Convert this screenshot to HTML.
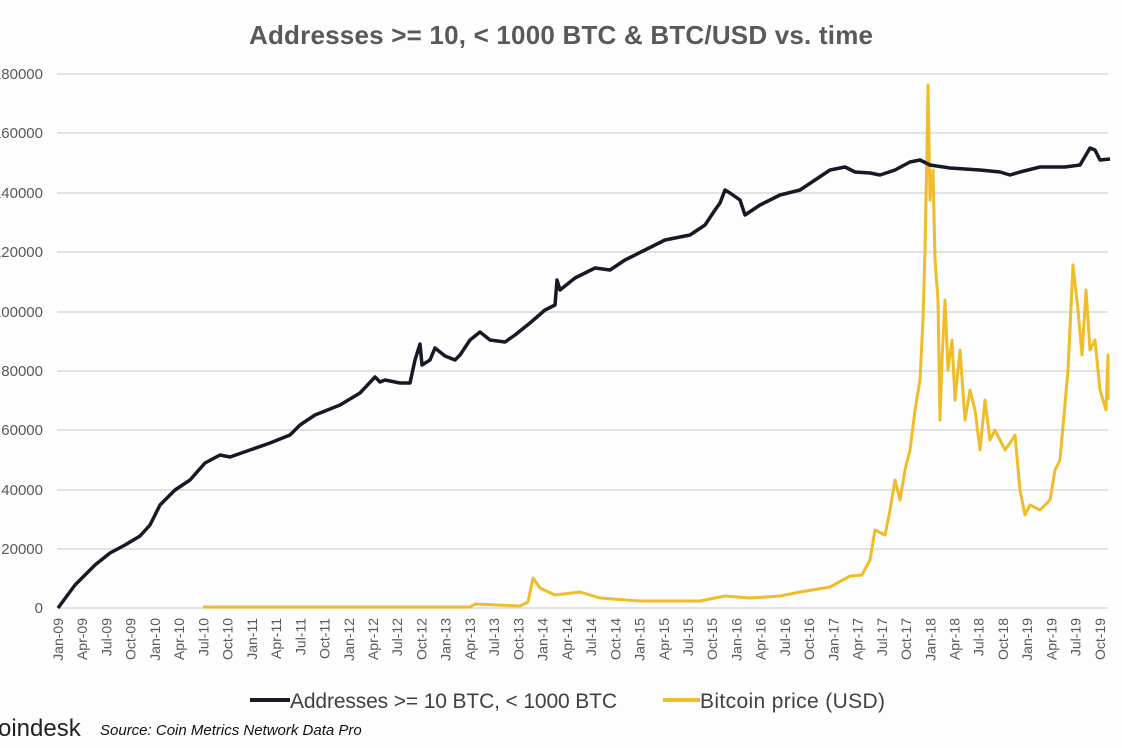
<!DOCTYPE html>
<html><head><meta charset="utf-8"><style>
body{margin:0;background:#fdfdfd;}
svg{display:block;font-family:"Liberation Sans",sans-serif;}
</style></head><body>
<svg width="1122" height="748" viewBox="0 0 1122 748">
<rect width="1122" height="748" fill="#fdfdfd"/>
<text x="561" y="44" text-anchor="middle" font-size="26" font-weight="bold" fill="#595959" textLength="624">Addresses &gt;= 10, &lt; 1000 BTC &amp; BTC/USD vs. time</text>
<g stroke="#d9d9d9" stroke-width="1.5">
<line x1="57" x2="1108" y1="74" y2="74"/><line x1="57" x2="1108" y1="133" y2="133"/><line x1="57" x2="1108" y1="193" y2="193"/><line x1="57" x2="1108" y1="252" y2="252"/><line x1="57" x2="1108" y1="312" y2="312"/><line x1="57" x2="1108" y1="371" y2="371"/><line x1="57" x2="1108" y1="430" y2="430"/><line x1="57" x2="1108" y1="490" y2="490"/><line x1="57" x2="1108" y1="549" y2="549"/><line x1="57" x2="1108" y1="608" y2="608"/>
</g>
<g font-size="15" fill="#595959" text-anchor="end">
<text x="43" y="79">180000</text><text x="43" y="138">160000</text><text x="43" y="198">140000</text><text x="43" y="257">120000</text><text x="43" y="317">100000</text><text x="43" y="376">80000</text><text x="43" y="435">60000</text><text x="43" y="495">40000</text><text x="43" y="554">20000</text><text x="43" y="613">0</text>
</g>
<g font-size="14" fill="#595959" text-anchor="end">
<text transform="translate(63,618) rotate(-90)">Jan-09</text>
<text transform="translate(87.2,618) rotate(-90)">Apr-09</text>
<text transform="translate(111.5,618) rotate(-90)">Jul-09</text>
<text transform="translate(135.7,618) rotate(-90)">Oct-09</text>
<text transform="translate(159.9,618) rotate(-90)">Jan-10</text>
<text transform="translate(184.2,618) rotate(-90)">Apr-10</text>
<text transform="translate(208.4,618) rotate(-90)">Jul-10</text>
<text transform="translate(232.6,618) rotate(-90)">Oct-10</text>
<text transform="translate(256.8,618) rotate(-90)">Jan-11</text>
<text transform="translate(281.1,618) rotate(-90)">Apr-11</text>
<text transform="translate(305.3,618) rotate(-90)">Jul-11</text>
<text transform="translate(329.5,618) rotate(-90)">Oct-11</text>
<text transform="translate(353.8,618) rotate(-90)">Jan-12</text>
<text transform="translate(378,618) rotate(-90)">Apr-12</text>
<text transform="translate(402.2,618) rotate(-90)">Jul-12</text>
<text transform="translate(426.5,618) rotate(-90)">Oct-12</text>
<text transform="translate(450.7,618) rotate(-90)">Jan-13</text>
<text transform="translate(474.9,618) rotate(-90)">Apr-13</text>
<text transform="translate(499.1,618) rotate(-90)">Jul-13</text>
<text transform="translate(523.4,618) rotate(-90)">Oct-13</text>
<text transform="translate(547.6,618) rotate(-90)">Jan-14</text>
<text transform="translate(571.8,618) rotate(-90)">Apr-14</text>
<text transform="translate(596.1,618) rotate(-90)">Jul-14</text>
<text transform="translate(620.3,618) rotate(-90)">Oct-14</text>
<text transform="translate(644.5,618) rotate(-90)">Jan-15</text>
<text transform="translate(668.8,618) rotate(-90)">Apr-15</text>
<text transform="translate(693,618) rotate(-90)">Jul-15</text>
<text transform="translate(717.2,618) rotate(-90)">Oct-15</text>
<text transform="translate(741.4,618) rotate(-90)">Jan-16</text>
<text transform="translate(765.7,618) rotate(-90)">Apr-16</text>
<text transform="translate(789.9,618) rotate(-90)">Jul-16</text>
<text transform="translate(814.1,618) rotate(-90)">Oct-16</text>
<text transform="translate(838.4,618) rotate(-90)">Jan-17</text>
<text transform="translate(862.6,618) rotate(-90)">Apr-17</text>
<text transform="translate(886.8,618) rotate(-90)">Jul-17</text>
<text transform="translate(911.1,618) rotate(-90)">Oct-17</text>
<text transform="translate(935.3,618) rotate(-90)">Jan-18</text>
<text transform="translate(959.5,618) rotate(-90)">Apr-18</text>
<text transform="translate(983.7,618) rotate(-90)">Jul-18</text>
<text transform="translate(1008,618) rotate(-90)">Oct-18</text>
<text transform="translate(1032.2,618) rotate(-90)">Jan-19</text>
<text transform="translate(1056.4,618) rotate(-90)">Apr-19</text>
<text transform="translate(1080.7,618) rotate(-90)">Jul-19</text>
<text transform="translate(1104.9,618) rotate(-90)">Oct-19</text>
</g>
<polyline fill="none" stroke="#f0bd2a" stroke-width="3" stroke-linejoin="round" points="203,607 470,607 475,604 520,606 528,602 533,578 540,588 555,595 580,592 600,598 640,601 700,601 725,596 750,598 780,596 800,592 830,587 850,576 862,575 870,560 875,530 885,535 890,510 895,480 900,500 905,470 910,450 915,410 920,380 923,320 925,250 927,150 928,85 930,200 933,170 935,260 938,300 940,420 942,360 945,300 948,370 952,340 955,400 960,350 965,420 970,390 975,410 980,450 985,400 990,440 995,430 1000,440 1005,450 1012,440 1015,435 1020,490 1025,515 1030,505 1040,510 1050,500 1055,470 1060,460 1068,370 1073,265 1078,310 1082,355 1086,290 1090,350 1095,340 1100,390 1103,400 1106,410 1108,355 1108,400"/>
<polyline fill="none" stroke="#161a26" stroke-width="3.5" stroke-linejoin="round" points="58,608 75,585 95,565 110,553 125,545 140,536 150,525 160,505 175,490 190,480 205,463 220,455 230,457 250,450 270,443 290,435 300,425 315,415 340,405 360,393 375,377 380,382 385,380 400,383 410,383 415,360 420,344 422,365 430,360 435,348 445,356 455,360 460,355 470,340 480,332 490,340 505,342 515,335 530,323 545,310 555,305 557,280 560,290 575,278 595,268 610,270 625,260 645,250 665,240 690,235 705,225 715,210 720,203 725,190 730,193 740,200 745,215 760,205 780,195 800,190 815,180 830,170 845,167 855,172 870,173 880,175 895,170 910,162 920,160 930,165 950,168 980,170 1000,172 1010,175 1020,172 1040,167 1065,167 1080,165 1090,148 1095,150 1100,160 1110,159"/>
<line x1="250" x2="290" y1="700" y2="700" stroke="#161a26" stroke-width="4"/>
<text x="290" y="708" font-size="21" fill="#404040" textLength="327">Addresses &gt;= 10 BTC, &lt; 1000 BTC</text>
<line x1="663" x2="700" y1="700" y2="700" stroke="#f0bd2a" stroke-width="4"/>
<text x="700" y="708" font-size="21" fill="#404040" textLength="185">Bitcoin price (USD)</text>
<text x="-2" y="736" font-size="24" fill="#222">oindesk</text>
<text x="100" y="735" font-size="15" font-style="italic" fill="#111">Source: Coin Metrics Network Data Pro</text>
</svg>
</body></html>
